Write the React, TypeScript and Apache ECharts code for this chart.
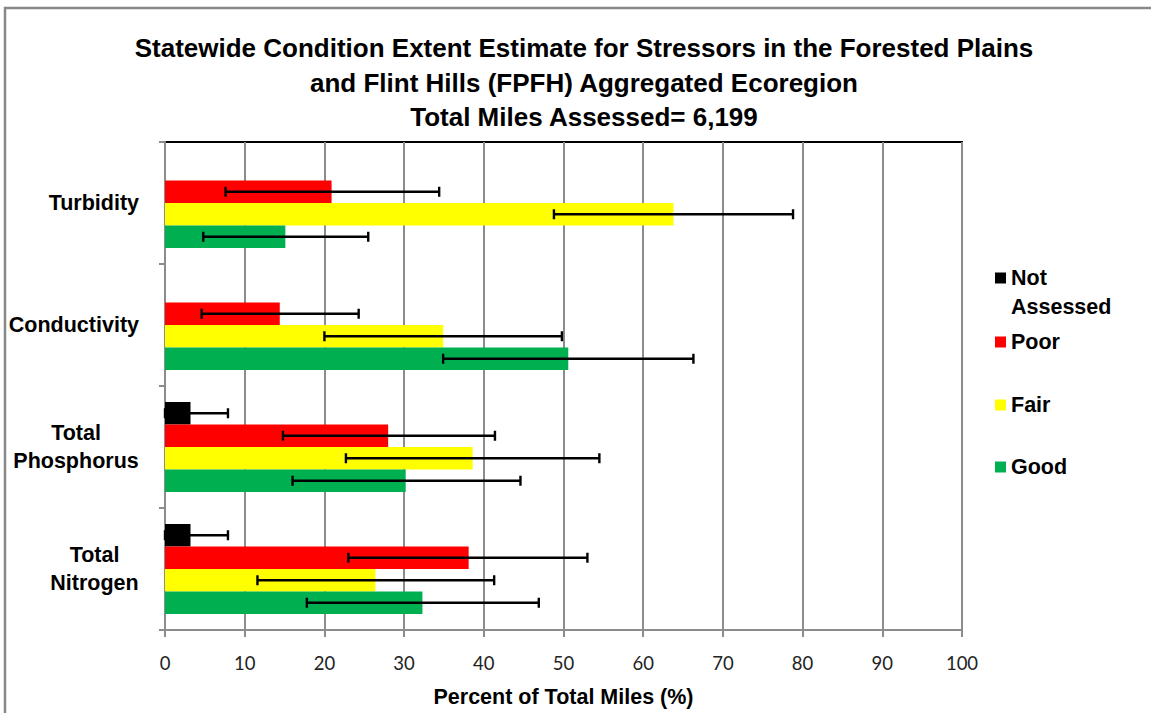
import React, { useEffect, useRef } from "react";
import * as echarts from "echarts";

// Categories, top to bottom
const categories = ["Turbidity", "Conductivity", "Total Phosphorus", "Total Nitrogen"];

// Bar values (percent of total miles)
const notAssessed = [0, 0, 3.2, 3.2];
const poor = [20.9, 14.4, 28.0, 38.1];
const fair = [63.8, 34.9, 38.6, 26.4];
const good = [15.1, 50.6, 30.2, 32.3];

// Error bar ranges (null = none)
const notAssessedLow = [null, null, 0, 0];
const notAssessedHigh = [null, null, 7.9, 7.9];
const poorLow = [7.6, 4.6, 14.8, 23.0];
const poorHigh = [34.4, 24.3, 41.4, 53.0];
const fairLow = [48.8, 20.0, 22.7, 11.6];
const fairHigh = [78.8, 49.8, 54.5, 41.3];
const goodLow = [4.8, 34.9, 16.0, 17.8];
const goodHigh = [25.5, 66.3, 44.6, 46.9];

const xTicks = { min: 0, max: 100, interval: 10 };

const titleLines = [
  "Statewide Condition Extent Estimate for Stressors in the Forested Plains",
  "and Flint Hills (FPFH) Aggregated Ecoregion",
  "Total Miles Assessed= 6,199",
];

const BAR_W = 22.5;
const BOLD_FONT = "'Liberation Sans', Arial, sans-serif";
const TITLE_FONT = "'Liberation Sans Narrow', 'Liberation Sans', Arial, sans-serif";
const FS = 21.5;

function errData(lo: (number | null)[], hi: (number | null)[]) {
  const out: number[][] = [];
  lo.forEach((l, i) => {
    const h = hi[i];
    if (l !== null && h !== null) out.push([i, l, h]);
  });
  return out;
}

function makeRenderer(slot: number) {
  return (params: any, api: any) => {
    const c = api.value(0);
    const lo = api.value(1);
    const hi = api.value(2);
    const p1 = api.coord([lo, c]);
    const p2 = api.coord([hi, c]);
    const y = p1[1] + (slot - 1.5) * BAR_W;
    const st = { stroke: "#000000", lineWidth: 2.4 };
    return {
      type: "group",
      children: [
        { type: "line", shape: { x1: p1[0], y1: y, x2: p2[0], y2: y }, style: st },
        { type: "line", shape: { x1: p1[0], y1: y - 5, x2: p1[0], y2: y + 5 }, style: st },
        { type: "line", shape: { x1: p2[0], y1: y - 5, x2: p2[0], y2: y + 5 }, style: st },
      ],
    };
  };
}

const seriesDefs = [
  { name: "Not Assessed", color: "#000000", data: notAssessed, lo: notAssessedLow, hi: notAssessedHigh },
  { name: "Poor", color: "#FF0000", data: poor, lo: poorLow, hi: poorHigh },
  { name: "Fair", color: "#FFFF00", data: fair, lo: fairLow, hi: fairHigh },
  { name: "Good", color: "#00B050", data: good, lo: goodLow, hi: goodHigh },
];

const legendCenters = [278, 342, 405, 467];

export default function App() {
  const ref = useRef<HTMLDivElement>(null);
  useEffect(() => {
    if (!ref.current) return;
    const chart = echarts.init(ref.current, null, { renderer: "svg" });
    const barSeries = seriesDefs.map((s) => ({
      name: s.name,
      type: "bar",
      data: s.data,
      barWidth: BAR_W,
      barGap: "0%",
      itemStyle: { color: s.color },
      z: 2,
    }));
    const errSeries = seriesDefs.map((s, i) => ({
      name: s.name + " error",
      type: "custom",
      renderItem: makeRenderer(i),
      data: errData(s.lo, s.hi),
      encode: { x: [1, 2], y: 0 },
      z: 5,
      silent: true,
    }));
    const legends = seriesDefs.map((s, i) => ({
      data: [s.name],
      orient: "vertical",
      left: 995,
      top: legendCenters[i] - 13,
      padding: 0,
      itemWidth: 11,
      itemHeight: 11,
      icon: "rect",
      selectedMode: false,
      formatter: i === 0 ? () => "Not" : undefined,
      textStyle: {
        fontFamily: BOLD_FONT,
        fontWeight: "bold",
        fontSize: FS,
        color: "#000",
        lineHeight: 26,
      },
    }));
    chart.setOption({
      animation: false,
      backgroundColor: "#ffffff",
      title: {
        text: titleLines.join("\n"),
        left: 579,
        top: 26,
        textAlign: "center",
        textStyle: {
          fontFamily: TITLE_FONT,
          fontWeight: "bold",
          fontSize: 26,
          lineHeight: 34.5,
          color: "#000",
        },
      },
      legend: legends,
      grid: {
        left: 165,
        right: 189,
        top: 142,
        bottom: 80,
        show: true,
        borderColor: "#000000",
        borderWidth: 2,
        backgroundColor: "transparent",
      },
      xAxis: {
        type: "value",
        min: xTicks.min,
        max: xTicks.max,
        interval: xTicks.interval,
        name: "Percent of Total Miles (%)",
        nameLocation: "middle",
        nameGap: 56,
        nameTextStyle: { fontFamily: BOLD_FONT, fontWeight: "bold", fontSize: FS, color: "#000" },
        axisLine: { show: true, lineStyle: { color: "#8c8c8c", width: 2 } },
        axisTick: { show: true, length: 7, lineStyle: { color: "#8c8c8c", width: 2 } },
        splitLine: { show: true, lineStyle: { color: "#8c8c8c", width: 2 } },
        axisLabel: { fontFamily: "Lato, 'Open Sans', sans-serif", fontSize: 18.5, color: "#222", margin: 23 },
      },
      yAxis: {
        type: "category",
        data: categories,
        inverse: true,
        axisLine: { show: true, lineStyle: { color: "#8c8c8c", width: 2 } },
        axisTick: { show: true, length: 6, lineStyle: { color: "#8c8c8c", width: 2 } },
        axisLabel: {
          margin: 26,
          fontFamily: BOLD_FONT,
          fontWeight: "bold",
          fontSize: FS,
          color: "#000",
          lineHeight: 28,
          formatter: (v: string) => {
            if (v === "Total Phosphorus") return "{p|Total}\n{p|Phosphorus}";
            if (v === "Total Nitrogen") return "{n|Total}\n{n|Nitrogen}";
            return v;
          },
          rich: {
            p: { width: 126, align: "center", fontFamily: BOLD_FONT, fontWeight: "bold", fontSize: FS, lineHeight: 28, color: "#000" },
            n: { width: 89, align: "center", fontFamily: BOLD_FONT, fontWeight: "bold", fontSize: FS, lineHeight: 28, color: "#000" },
          },
        },
      },
      graphic: [
        {
          type: "rect",
          shape: { x: 5, y: 8, width: 1300, height: 900 },
          style: { fill: "none", stroke: "#888888", lineWidth: 2.5 },
          silent: true,
          z: 100,
        },
        {
          type: "text",
          x: 1011,
          y: 307,
          style: {
            text: "Assessed",
            fontFamily: BOLD_FONT,
            fontWeight: "bold",
            fontSize: FS,
            fill: "#000",
            verticalAlign: "middle",
            align: "left",
          },
        },
      ],
      series: [...barSeries, ...errSeries],
    });
    return () => chart.dispose();
  }, []);
  return (
    <div
      ref={ref}
      style={{ position: "absolute", left: 0, top: 0, width: 1151, height: 713 }}
    />
  );
}
